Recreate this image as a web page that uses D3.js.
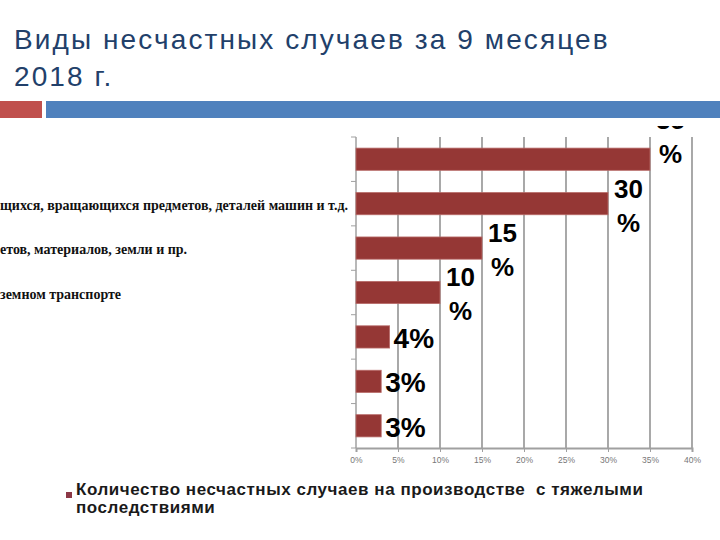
<!DOCTYPE html>
<html>
<head>
<meta charset="utf-8">
<script src="https://cdn.jsdelivr.net/npm/d3@7"></script>
<style>
  body { margin: 0; background: #fff; }
  svg { display: block; }
</style>
</head>
<body>
<div id="chart"></div>
<script>
var categories = [
    "Падение пострадавшего с высоты",
    "Воздействие движущихся, разлетающихся, вращающихся предметов, деталей машин и т.д.",
    "Падение, обрушение, обвалы предметов, материалов, земли и пр.",
    "Транспортные происшествия на наземном транспорте",
    "Воздействие экстремальных температур",
    "Поражение электрическим током",
    "Прочие"
];
// only the tail of some category labels is visible on the slide
var visibleLabels = [
    "",
    "щихся, вращающихся предметов, деталей машин и т.д.",
    "етов, материалов, земли и пр.",
    "земном транспорте",
    "",
    "",
    ""
];
var values = [35, 30, 15, 10, 4, 3, 3];
var tickValues = [0, 5, 10, 15, 20, 25, 30, 35, 40];
var titleLines = ["Виды несчастных случаев за 9 месяцев", "2018 г."];
var legendLines = ["Количество несчастных случаев на производстве  с тяжелыми", "последствиями"];

var width = 720, height = 540;
var svg = d3.select("#chart").append("svg")
    .attr("width", width)
    .attr("height", height);

svg.append("rect").attr("width", width).attr("height", height).attr("fill", "#fff");

// slide title
svg.selectAll("text.title")
    .data(titleLines)
    .enter().append("text")
    .attr("class", "title")
    .attr("x", 14)
    .attr("y", function (d, i) { return 49 + i * 37; })
    .attr("fill", "#22406a")
    .attr("font-family", "Liberation Sans, Arial, sans-serif")
    .attr("font-size", "28px")
    .attr("letter-spacing", "2.1px")
    .text(function (d) { return d; });

// header stripes
svg.append("rect").attr("x", 0).attr("y", 101).attr("width", 42).attr("height", 17).attr("fill", "#c0504d");
svg.append("rect").attr("x", 46).attr("y", 101).attr("width", width - 46).attr("height", 17).attr("fill", "#4f81bd");

// chart picture, cut at the top like on the slide
svg.append("clipPath").attr("id", "chart-clip")
    .append("rect").attr("x", 0).attr("y", 126).attr("width", width).attr("height", height - 126);

var g = svg.append("g").attr("clip-path", "url(#chart-clip)");

var x = d3.scaleLinear().domain([0, 40]).range([356, 692]);
var y = d3.scaleBand().domain(categories).range([137, 448]).paddingInner(0.5).paddingOuter(0.25);

// vertical gridlines
g.selectAll("line.grid")
    .data(tickValues.slice(1))
    .enter().append("line")
    .attr("class", "grid")
    .attr("x1", function (d) { return x(d); })
    .attr("x2", function (d) { return x(d); })
    .attr("y1", 137)
    .attr("y2", 448)
    .attr("stroke", "#7a7a7a")
    .attr("stroke-width", 1.3);

// x axis
var xAxis = g.append("g")
    .attr("transform", "translate(0,448)")
    .call(d3.axisBottom(x).tickValues(tickValues).tickSize(4).tickFormat(function (d) { return d + "%"; }));
xAxis.select(".domain").attr("stroke", "#a0a0a0").attr("stroke-width", 2);
xAxis.selectAll(".tick line").attr("stroke", "#a0a0a0");
xAxis.selectAll(".tick text")
    .attr("fill", "#777")
    .attr("font-family", "Liberation Sans, Arial, sans-serif")
    .attr("font-size", "8.5px")
    .attr("dy", "0.9em");

// y axis: plain line with ticks between categories
var bounds = d3.range(categories.length + 1).map(function (i) {
    return 137 + i * y.step();
});
g.append("line")
    .attr("x1", 356).attr("x2", 356)
    .attr("y1", 137).attr("y2", 448)
    .attr("stroke", "#a0a0a0").attr("stroke-width", 1.5);
g.selectAll("line.ytick")
    .data(bounds)
    .enter().append("line")
    .attr("class", "ytick")
    .attr("x1", 351).attr("x2", 356)
    .attr("y1", function (d) { return d; })
    .attr("y2", function (d) { return d; })
    .attr("stroke", "#a0a0a0");

// category labels (tails only)
g.selectAll("text.cat")
    .data(visibleLabels)
    .enter().append("text")
    .attr("class", "cat")
    .attr("x", 0)
    .attr("y", function (d, i) { return y(categories[i]) + y.bandwidth() / 2 + 6; })
    .attr("fill", "#111")
    .attr("font-family", "Liberation Serif, Times New Roman, serif")
    .attr("font-weight", "bold")
    .attr("font-size", "14px")
    .text(function (d) { return d; });

// bars
g.selectAll("rect.bar")
    .data(values)
    .enter().append("rect")
    .attr("class", "bar")
    .attr("x", x(0))
    .attr("y", function (d, i) { return y(categories[i]); })
    .attr("width", function (d) { return x(d) - x(0); })
    .attr("height", y.bandwidth())
    .attr("fill", "#953735")
    .attr("stroke", "#b86b69")
    .attr("stroke-width", 0.8);

// value labels: two lines for wide values, one line for small ones
var labels = g.selectAll("text.val")
    .data(values)
    .enter().append("text")
    .attr("class", "val")
    .attr("font-family", "Liberation Sans, Arial, sans-serif")
    .attr("font-weight", "bold")
    .attr("fill", "#000");

labels.each(function (d, i) {
    var t = d3.select(this);
    var top = y(categories[i]);
    var lx = x(d) + (d >= 10 ? 6 : 4);
    if (d >= 10) {
        var shift = i === 0 ? -24 : 0;
        t.attr("font-size", "26px");
        t.append("tspan").attr("x", lx).attr("y", top + 5 + shift).text(d);
        t.append("tspan").attr("x", lx + 3).attr("y", top + 39 + shift).text("%");
    } else {
        t.attr("font-size", "28px");
        t.attr("x", lx).attr("y", top + y.bandwidth() / 2 + 11).text(d + "%");
    }
});

// legend
svg.append("rect")
    .attr("x", 66).attr("y", 492)
    .attr("width", 6).attr("height", 6)
    .attr("fill", "#8c3846");
svg.selectAll("text.legend")
    .data(legendLines)
    .enter().append("text")
    .attr("class", "legend")
    .attr("x", 76)
    .attr("y", function (d, i) { return 495 + i * 18; })
    .attr("fill", "#1a1a1a")
    .attr("font-family", "Liberation Sans, Arial, sans-serif")
    .attr("font-weight", "bold")
    .attr("font-size", "17px")
    .attr("letter-spacing", "0.55px")
    .attr("xml:space", "preserve")
    .text(function (d) { return d; });
</script>
</body>
</html>
